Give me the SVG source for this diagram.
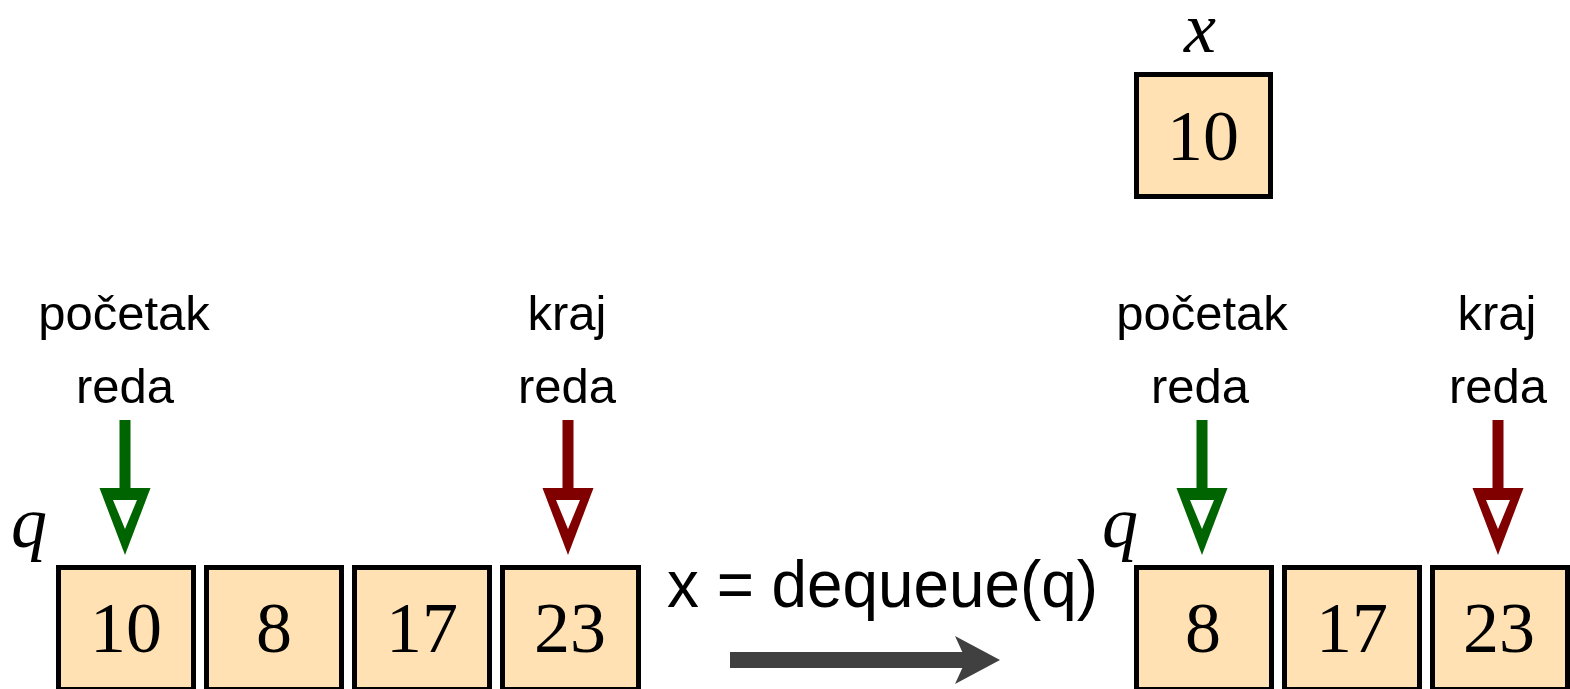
<svg xmlns="http://www.w3.org/2000/svg" width="1570" height="689" viewBox="0 0 1570 689">
  <style>
    .cell { fill: #FFE1B3; stroke: #000; stroke-width: 5; }
    .num { font-family: "Liberation Serif", "DejaVu Serif", serif; font-size: 72px; fill: #000; text-anchor: middle; }
    .var { font-family: "Liberation Serif", "DejaVu Serif", serif; font-style: italic; font-size: 72px; fill: #000; text-anchor: middle; }
    .lbl { font-family: "Liberation Sans", "DejaVu Sans", sans-serif; font-size: 49px; fill: #000; text-anchor: middle; }
    .op { font-family: "Liberation Sans", "DejaVu Sans", sans-serif; font-size: 66px; fill: #000; }
    .front { fill: #006400; }
    .rear { fill: #800000; }
    .hole { fill: #fff; }
  </style>
  <defs>
    <!-- pointer arrow: shaft plus hollow triangular head, tip at (0,0) -->
    <g id="ptr">
      <rect x="-5.5" y="-135" width="11" height="72"/>
      <polygon points="-25.5,-67 25.5,-67 0,0"/>
      <polygon class="hole" points="-12,-55 12,-55 0,-26"/>
    </g>
  </defs>

  <!-- result variable x -->
  <g id="var-x">
    <text class="var" x="1200" y="52">x</text>
    <rect class="cell" x="1136.5" y="74.5" width="134" height="122"/>
    <text class="num" x="1203" y="160">10</text>
  </g>

  <!-- queue before dequeue -->
  <g id="queue-before">
    <text class="var" x="29" y="547">q</text>
    <g id="qb-0">
      <rect class="cell" x="58.5" y="567.5" width="135" height="122"/>
      <text class="num" x="126" y="652">10</text>
    </g>
    <g id="qb-1">
      <rect class="cell" x="206.5" y="567.5" width="135" height="122"/>
      <text class="num" x="274" y="652">8</text>
    </g>
    <g id="qb-2">
      <rect class="cell" x="354.5" y="567.5" width="135" height="122"/>
      <text class="num" x="422" y="652">17</text>
    </g>
    <g id="qb-3">
      <rect class="cell" x="502.5" y="567.5" width="136" height="122"/>
      <text class="num" x="570" y="652">23</text>
    </g>
    <g id="qb-front-label">
      <text class="lbl" x="124" y="330">početak</text>
      <text class="lbl" x="125" y="403">reda</text>
    </g>
    <g id="qb-rear-label">
      <text class="lbl" x="567" y="330">kraj</text>
      <text class="lbl" x="567" y="403">reda</text>
    </g>
  </g>

  <!-- operation label -->
  <g id="op-label">
    <text class="op" x="667" y="607" textLength="431" lengthAdjust="spacingAndGlyphs">x = dequeue(q)</text>
  </g>

  <!-- queue after dequeue -->
  <g id="queue-after">
    <text class="var" x="1120" y="547">q</text>
    <g id="qa-0">
      <rect class="cell" x="1136.5" y="567.5" width="135" height="122"/>
      <text class="num" x="1203" y="652">8</text>
    </g>
    <g id="qa-1">
      <rect class="cell" x="1284.5" y="567.5" width="135" height="122"/>
      <text class="num" x="1352" y="652">17</text>
    </g>
    <g id="qa-2">
      <rect class="cell" x="1432.5" y="567.5" width="135" height="122"/>
      <text class="num" x="1499" y="652">23</text>
    </g>
    <g id="qa-front-label">
      <text class="lbl" x="1202" y="330">početak</text>
      <text class="lbl" x="1200" y="403">reda</text>
    </g>
    <g id="qa-rear-label">
      <text class="lbl" x="1497" y="330">kraj</text>
      <text class="lbl" x="1498" y="403">reda</text>
    </g>
  </g>

  <!-- connectors -->
  <g id="connectors">
    <use href="#ptr" class="front" x="125" y="555"/>
    <use href="#ptr" class="rear" x="568" y="555"/>
    <use href="#ptr" class="front" x="1202" y="555"/>
    <use href="#ptr" class="rear" x="1498" y="555"/>
    <g id="step-arrow" fill="#404040">
      <rect x="730" y="652" width="240" height="16"/>
      <path d="M955,636 L1000,660 L955,684 L966,660 Z"/>
    </g>
  </g>
</svg>
